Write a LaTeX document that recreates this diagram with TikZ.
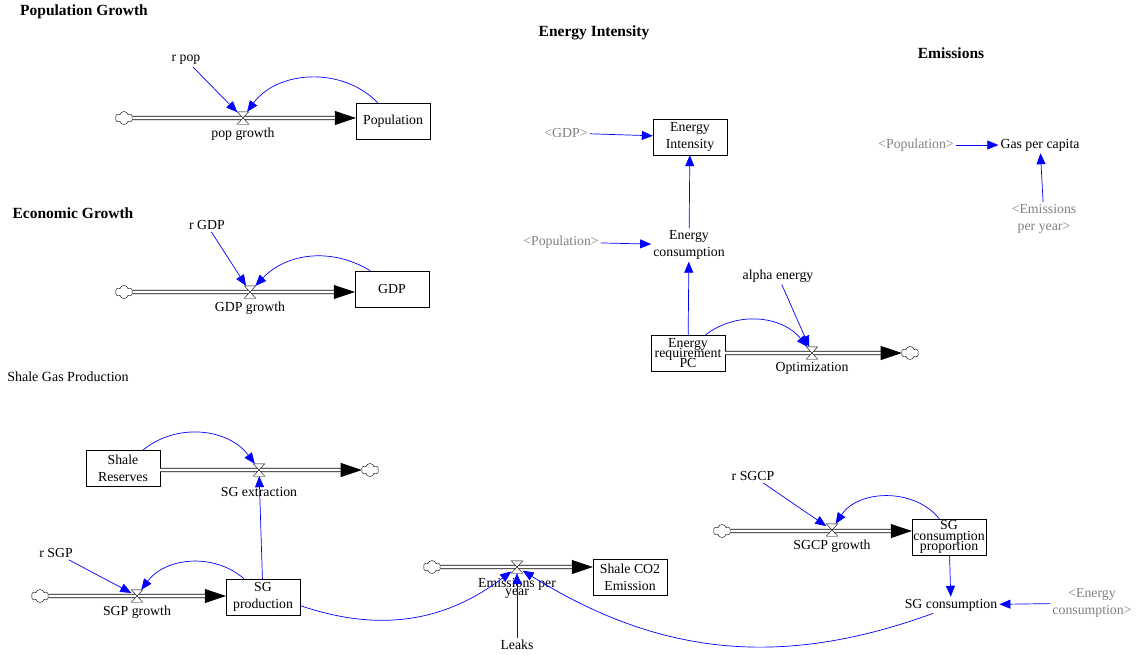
\documentclass[tikz,border=0pt]{standalone}
\usepackage{fontspec}
\setmainfont{Liberation Serif}
\usetikzlibrary{
  arrows.meta,
  shapes.symbols,       % Shape "cloud"
}
\def\myfont{\fontsize{13.8}{17}\selectfont}
\tikzset{
  font=\myfont,
  >={Triangle[length=11pt,width=9pt]},
  stock/.style={
    draw,
    rectangle,
    minimum width=74pt,
    minimum height=36pt,
    inner sep=1pt,
    align=center
  },
  aux/.style={
    inner sep=2pt,
    align=center
  },
  shadow/.style={
    aux,
    text=gray
  },
  title/.style={
    font=\fontsize{15.5}{18}\selectfont\bfseries
  },
  valve/.style={
    minimum width=11pt,
    minimum height=12pt,
    inner sep=0pt,
    label distance=5pt
  },
  source/.style={
    cloud,
    cloud puffs=6,
    aspect=1.3,
    draw,
    fill=white,
    minimum width=17pt,
    minimum height=13pt,
    inner sep=0pt
  },
  link/.style={
    ->,
    blue,
    line width=0.7pt
  },
  % Black band with a white core = double pipe with a big head
  pipe/.style={
    line width=4.4pt,
    -{Triangle[length=21pt,width=14pt,line width=0.6pt]},
    postaction={draw=white, line width=2.6pt, shorten >=21pt, arrows=-}
  }
}
\begin{document}
\begin{tikzpicture}[x=1pt,y=-1pt]
\useasboundingbox (0,0) rectangle (1139,654);

% Population Growth
\node[title] (tpop) at (84,12) {Population Growth};
\node[source] (c1) at (124,118) {};
\node[valve,label=below:{pop growth}] (pg) at (243,118) {};
\node[stock] (pop) at (393,121) {Population};
\node[aux] (rpop) at (186,60) {r pop};
\draw[pipe] (c1) -- (c1 -| pop.west);
\path[link] (rpop) edge (pg)
            (pop.130) edge[bend right=50] (pg);

% Economic Growth
\node[title] (tgdp) at (73,213) {Economic Growth};
\node[source] (c2) at (124,292) {};
\node[valve,label=below:{GDP growth}] (gg) at (250,292) {};
\node[stock] (gdp) at (392,289) {GDP};
\node[aux] (rgdp) at (207,225) {r GDP};
\draw[pipe] (c2) -- (c2 -| gdp.west);
\path[link] (rgdp) edge (gg)
            (gdp.140) edge[bend right=39] (gg);

% Energy Intensity
\node[title] (tei) at (594,33) {Energy Intensity};
\node[stock] (ei) at (690,137) {Energy\\Intensity};
\node[shadow] (sgdp) at (566,133) {<GDP>};
\node[aux] (ec) at (689,245) {Energy\\consumption};
\node[shadow] (spop1) at (561,242) {<Population>};
\node[stock] (erpc) at (688,353) {Energy\\[-7pt]requirement\\[-7pt]PC};
\node[valve,label=below:Optimization] (opt) at (812,353) {};
\node[source] (c3) at (910,353) {};
\node[aux] (alpha) at (778,276) {alpha energy};
\draw[pipe] (erpc.east) -- (c3);
\path[link] (sgdp) edge (ei)
            (spop1) edge (ec)
            (ec) edge (ei)
            (erpc) edge (ec)
            (alpha) edge (opt)
            (erpc.46) edge[bend left=44] (opt);

% Emissions
\node[title] (tem) at (951,53) {Emissions};
\node[aux] (gpc) at (1040,145) {Gas per capita};
\node[shadow] (spop2) at (916,145) {<Population>};
\node[shadow] (sepy) at (1044,219) {<Emissions\\per year>};
\path[link] (spop2) edge (gpc)
            (sepy) edge (gpc);

% Shale Gas Production
\node[font=\fontsize{14}{17}\selectfont] (tsg) at (68,377) {Shale Gas Production};
\node[stock] (sr) at (123,468) {Shale\\Reserves};
\node[valve,label={[label distance=8pt]below:{SG extraction}}] (ext) at (259,470) {};
\node[source] (c4) at (370,470) {};
\node[stock] (sgp) at (263,597) {SG\\production};
\node[valve,label=below:{SGP growth}] (sgpg) at (137,596) {};
\node[source] (c5) at (40,596) {};
\node[aux] (rsgp) at (56,553) {r SGP};
\node[source] (c6) at (432,567) {};
\node[valve,label={[align=center,label distance=2pt]below:{Emissions per\\[-9pt]year}}] (epy) at (517,567) {};
\node[stock] (sco2) at (630,577) {Shale CO2\\Emission};
\node[aux] (leaks) at (517,645) {Leaks};
\node[source] (c7) at (722,531) {};
\node[valve,label=below:{SGCP growth}] (sgcpg) at (832,530) {};
\node[stock] (sgcp) at (949,537) {SG\\[-6.5pt]consumption\\[-6.5pt]proportion};
\node[aux] (rsgcp) at (753,476) {r SGCP};
\node[aux] (sgc) at (951,605) {SG consumption};
\node[shadow] (senc) at (1092,603) {<Energy\\consumption>};
\draw[pipe] (sr.east |- ext) -- (c4);
\draw[pipe] (c5) -- (c5 -| sgp.west);
\draw[pipe] (c6) -- (c6 -| sco2.west);
\draw[pipe] (c7) -- (c7 -| sgcp.west);
\path[link] (sr.42) edge[bend left=46] (ext)
            (sgp) edge (ext)
            (rsgp) edge (sgpg)
            (sgp.136) edge[bend right=47] (sgpg)
            (sgp.-13) edge[bend right=28] (epy)
            (leaks) edge (epy)
            (sgc.205) edge[bend left=26] (epy)
            (rsgcp) edge (sgcpg)
            (sgcp.118) edge[bend right=54] (sgcpg)
            (sgcp) edge (sgc)
            (senc) edge (sgc);

% valves on top of the pipes
\foreach \v in {pg,gg,opt,ext,sgpg,epy,sgcpg}
  \draw[fill=white] (\v.north west) -- (\v.north east) -- (\v.south west) -- (\v.south east) -- cycle;
\end{tikzpicture}
\end{document}
